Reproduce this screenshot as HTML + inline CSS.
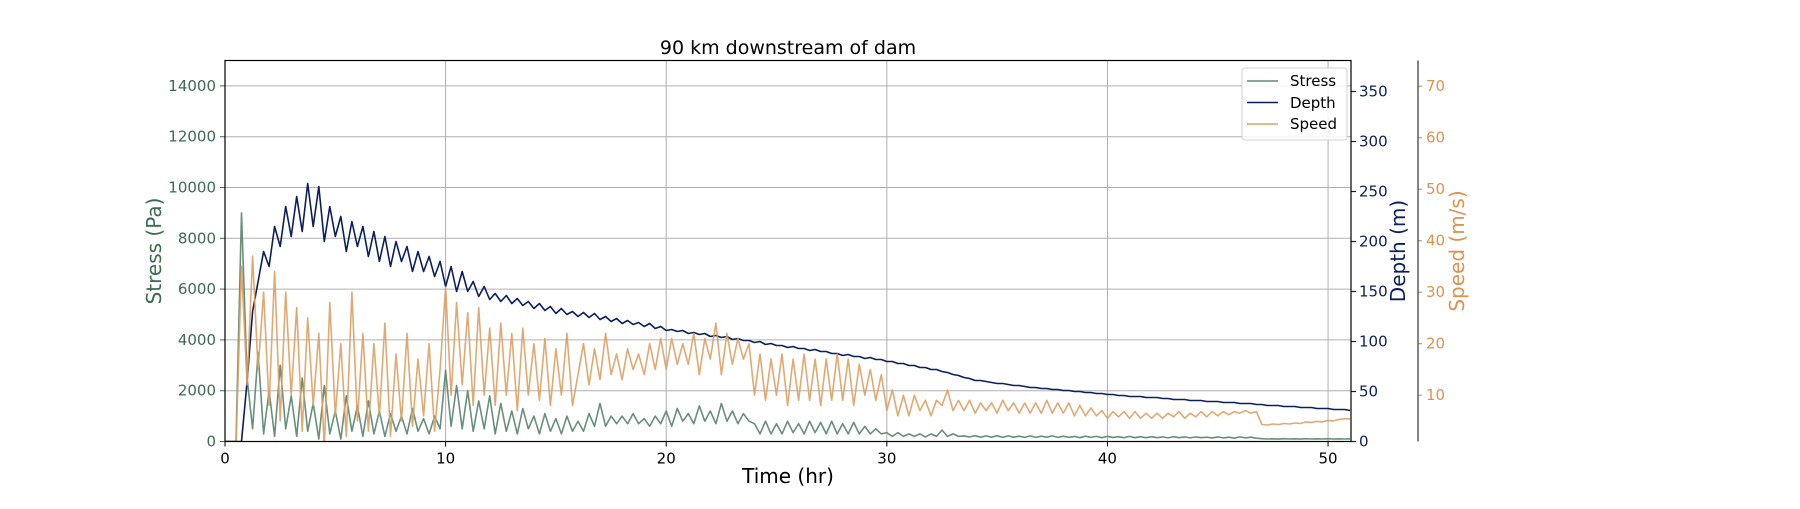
<!DOCTYPE html>
<html><head><meta charset="utf-8"><style>
html,body{margin:0;padding:0;background:#fff;}
svg text{font-family:"DejaVu Sans","Liberation Sans",sans-serif;}
</style></head><body>
<svg id="chart" width="1800" height="504" viewBox="0 0 1800 504" xmlns="http://www.w3.org/2000/svg">
<rect width="1800" height="504" fill="#fff"/>
<g id="grid"></g>
<g id="series"></g>
<g id="axes"></g>
<text x="788" y="54" text-anchor="middle" font-size="19" fill="#000">90 km downstream of dam</text>
<text x="788" y="483" text-anchor="middle" font-size="20" fill="#000">Time (hr)</text>
<text transform="translate(161,251) rotate(-90)" text-anchor="middle" font-size="20" fill="#3d6b50">Stress (Pa)</text>
<text transform="translate(1405,251) rotate(-90)" text-anchor="middle" font-size="20" fill="#0b1f5e">Depth (m)</text>
<text transform="translate(1464,251) rotate(-90)" text-anchor="middle" font-size="20" fill="#dd9350">Speed (m/s)</text>
<g>
<rect x="1242" y="68" width="105" height="72" rx="3" fill="#fff" fill-opacity="0.85" stroke="#d0d0d0"/>
<line x1="1247" x2="1278" y1="81" y2="81" stroke="#5f8a73" stroke-width="1.6"/>
<text x="1290" y="86" font-size="15" fill="#000">Stress</text>
<line x1="1247" x2="1278" y1="102.5" y2="102.5" stroke="#0a1f5c" stroke-width="1.6"/>
<text x="1290" y="108" font-size="15" fill="#000">Depth</text>
<line x1="1247" x2="1278" y1="124" y2="124" stroke="#dea062" stroke-width="1.6"/>
<text x="1290" y="129" font-size="15" fill="#000">Speed</text>
</g>
</svg>
<script>
const startHour = 0;
const stepHour = 0.25;
const xTicks = [0,10,20,30,40,50];
const stressTicks = [0,2000,4000,6000,8000,10000,12000,14000];
const depthTicks = [0,50,100,150,200,250,300,350];
const speedTicks = [10,20,30,40,50,60,70];
const depthValues = [
0,0,0,0, 60,130,160,190, 175,215,195,235, 205,245,210,258, 215,255,200,235,
205,225,190,220, 195,215,185,210, 180,205,175,200, 180,195,170,190, 170,185,165,180,
155,175,150,170, 150,160,145,155, 142,148,140,146, 138,143,136,140, 133,138,131,135,
128,133,127,130, 125,129,124,128, 122,125,120,123, 118,121,117,119, 115,118,113,115,
111,112,110,111, 108,109,107,108, 105,106,104,105, 102,103,101,101, 99,100,97,98,
96,96,94,95, 93,93,91,92, 90,90,88,88, 86,87,85,85, 83,84,82,82,
80,80,78,78, 76,76,74,74, 72,72,70,69, 67,66,64,63, 61,61,60,59,
58,58,57,56, 56,55,54,54, 53,53,52,52, 51,51,50,50, 49,49,48,48,
47,47,46,46, 45,45,45,44, 44,44,43,43, 42,42,42,41, 41,41,40,40,
40,39,39,39, 38,38,38,37, 37,36,36,36, 35,35,35,34, 34,34,33,33,
33,32,32,32, 31];
const stressValues = [
0,0,0,9000, 2500,500,3500,300, 2000,200,3000,500, 1800,200,2500,400, 1500,100,2200,300,
1200,100,1800,400, 1400,200,1600,300, 1200,200,1100,400, 1000,300,1300,400, 900,300,1000,500,
2800,600,2200,500, 2000,400,1600,500, 1800,300,1500,400, 1200,300,1300,500, 1000,300,1100,400,
900,300,1000,400, 800,400,1100,600, 1500,600,1000,700, 1000,700,1100,700, 900,600,1000,700,
1200,600,1300,800, 1100,700,1400,800, 1200,700,1500,800, 1200,700,1100,800, 700,300,800,300,
700,300,800,350, 700,300,800,350, 750,300,800,300, 700,300,750,300, 600,300,500,300,
350,200,350,200, 300,200,300,180, 300,200,450,200, 300,200,220,180, 230,170,220,170,
230,160,220,170, 210,160,220,160, 210,170,220,160, 210,160,200,150, 210,160,200,150,
200,160,190,150, 200,150,190,150, 190,150,180,140, 190,150,180,140, 180,150,170,140,
180,140,170,130, 180,140,170,130, 110,100,105,95, 110,100,105,95, 110,100,105,100,
110,100,105,100, 105];
const speedValues = [
0,0,0,35, 12,37,15,30, 8,34,5,30, 10,27,3,25, 8,22,0,28,
6,20,2,30, 5,22,3,20, 6,24,2,18, 5,22,4,17, 6,20,3,15,
31,10,28,12, 26,8,27,10, 23,8,24,10, 22,7,23,10, 20,9,21,8,
19,10,22,8, 14,20,12,19, 13,22,14,18, 13,19,15,18, 14,20,15,21,
15,21,16,20, 16,22,14,21, 17,24,14,22, 16,21,17,20, 10,18,9,17,
10,18,8,17, 9,18,9,17, 8,17,9,18, 9,17,8,16, 10,15,9,14,
7,11,6,10, 6,10,7,9, 6,9,8,11, 7,9,7,9, 6.5,8.5,7,8.5,
6.5,9,7,8.5, 6.5,8.5,6.5,8.5, 6.5,9,6.5,8.5, 6.5,8.5,6,8, 6,7.5,6,7,
5.5,6.8,5.8,6.8, 5.5,6.8,5.5,6.5, 5.5,6.5,5.5,6.5, 5.8,6.8,5.5,6.5, 5.8,6.8,5.8,6.8,
6,6.8,6.2,6.8, 6.5,7,6.5,6.8, 4.3,4.2,4.4,4.3, 4.5,4.4,4.6,4.5, 4.8,4.7,4.9,4.8,
5.1,5,5.3,5.4, 5.4];

const L=225,R=1351,T=60.5,B=441.5,SPX=1418;
const xMax=51.04;
function sx(h){return L+(h/xMax)*(R-L);}
function syStress(v){return B-(v/15000)*(B-T);}
function syDepth(v){return B-(v/381)*(B-T);}
function sySpeed(v){return B-((v-1)/74)*(B-T);}
const NS="http://www.w3.org/2000/svg";
function mk(tag,attrs,parent){const e=document.createElementNS(NS,tag);for(const k in attrs)e.setAttribute(k,attrs[k]);parent.appendChild(e);return e;}
const svg=document.getElementById('chart');
const grid=document.getElementById('grid'),series=document.getElementById('series'),axes=document.getElementById('axes');
const clip=mk('clipPath',{id:'pc'},svg);
mk('rect',{x:L,y:T,width:R-L,height:B-T},clip);
series.setAttribute('clip-path','url(#pc)');

xTicks.forEach(t=>{const x=sx(t);
 const g=mk('line',{x1:x,x2:x,y1:T,y2:B,stroke:'#b0b0b0','stroke-width':1},grid);
 
 
 mk('line',{x1:x,x2:x,y1:B,y2:B+5,stroke:'#000','stroke-width':1},axes);
 const tx=mk('text',{x:x,y:B+22,'text-anchor':'middle','font-size':15,fill:'#000'},axes);tx.textContent=t;
 
 
});
stressTicks.forEach(t=>{const y=syStress(t);
 const g=mk('line',{x1:L,x2:R,y1:y,y2:y,stroke:'#b0b0b0','stroke-width':1},grid);
 
 
 mk('line',{x1:L-5,x2:L,y1:y,y2:y,stroke:'#3d6b50','stroke-width':1},axes);
 const tx=mk('text',{x:L-9,y:y+5,'text-anchor':'end','font-size':15,fill:'#3d6b50'},axes);tx.textContent=t;
 
 
});
depthTicks.forEach(t=>{const y=syDepth(t);
 mk('line',{x1:R,x2:R+5,y1:y,y2:y,stroke:'#0b1f5e','stroke-width':1.2},axes);
 const tx=mk('text',{x:R+8,y:y+5,'font-size':15,fill:'#0b1f5e'},axes);tx.textContent=t;
 
 
});
speedTicks.forEach(t=>{const y=sySpeed(t);
 mk('line',{x1:SPX,x2:SPX+4,y1:y,y2:y,stroke:'#dd9350','stroke-width':1.2},axes);
 const tx=mk('text',{x:SPX+8,y:y+5,'font-size':15,fill:'#dd9350'},axes);tx.textContent=t;
 
 
});
function line(vals,fy,color,name,op){
 const pts=vals.map((v,i)=>sx(startHour+i*stepHour).toFixed(1)+','+fy(v).toFixed(1)).join(' ');
 const p=mk('polyline',{points:pts,fill:'none',stroke:color,'stroke-width':1.6,'stroke-opacity':op,'stroke-linejoin':'round'},series);
 
 
}
line(stressValues,syStress,'#5f8a73','stress-line',0.95);
line(depthValues,syDepth,'#0a1f5c','depth-line',1);
line(speedValues,sySpeed,'#dea062','speed-line',0.9);
mk('rect',{x:L,y:T,width:R-L,height:B-T,fill:'none',stroke:'#000','stroke-width':1.2},axes);
mk('line',{x1:SPX,x2:SPX,y1:T,y2:B,stroke:'#333','stroke-width':1.2},axes);
</script>
</body></html>
